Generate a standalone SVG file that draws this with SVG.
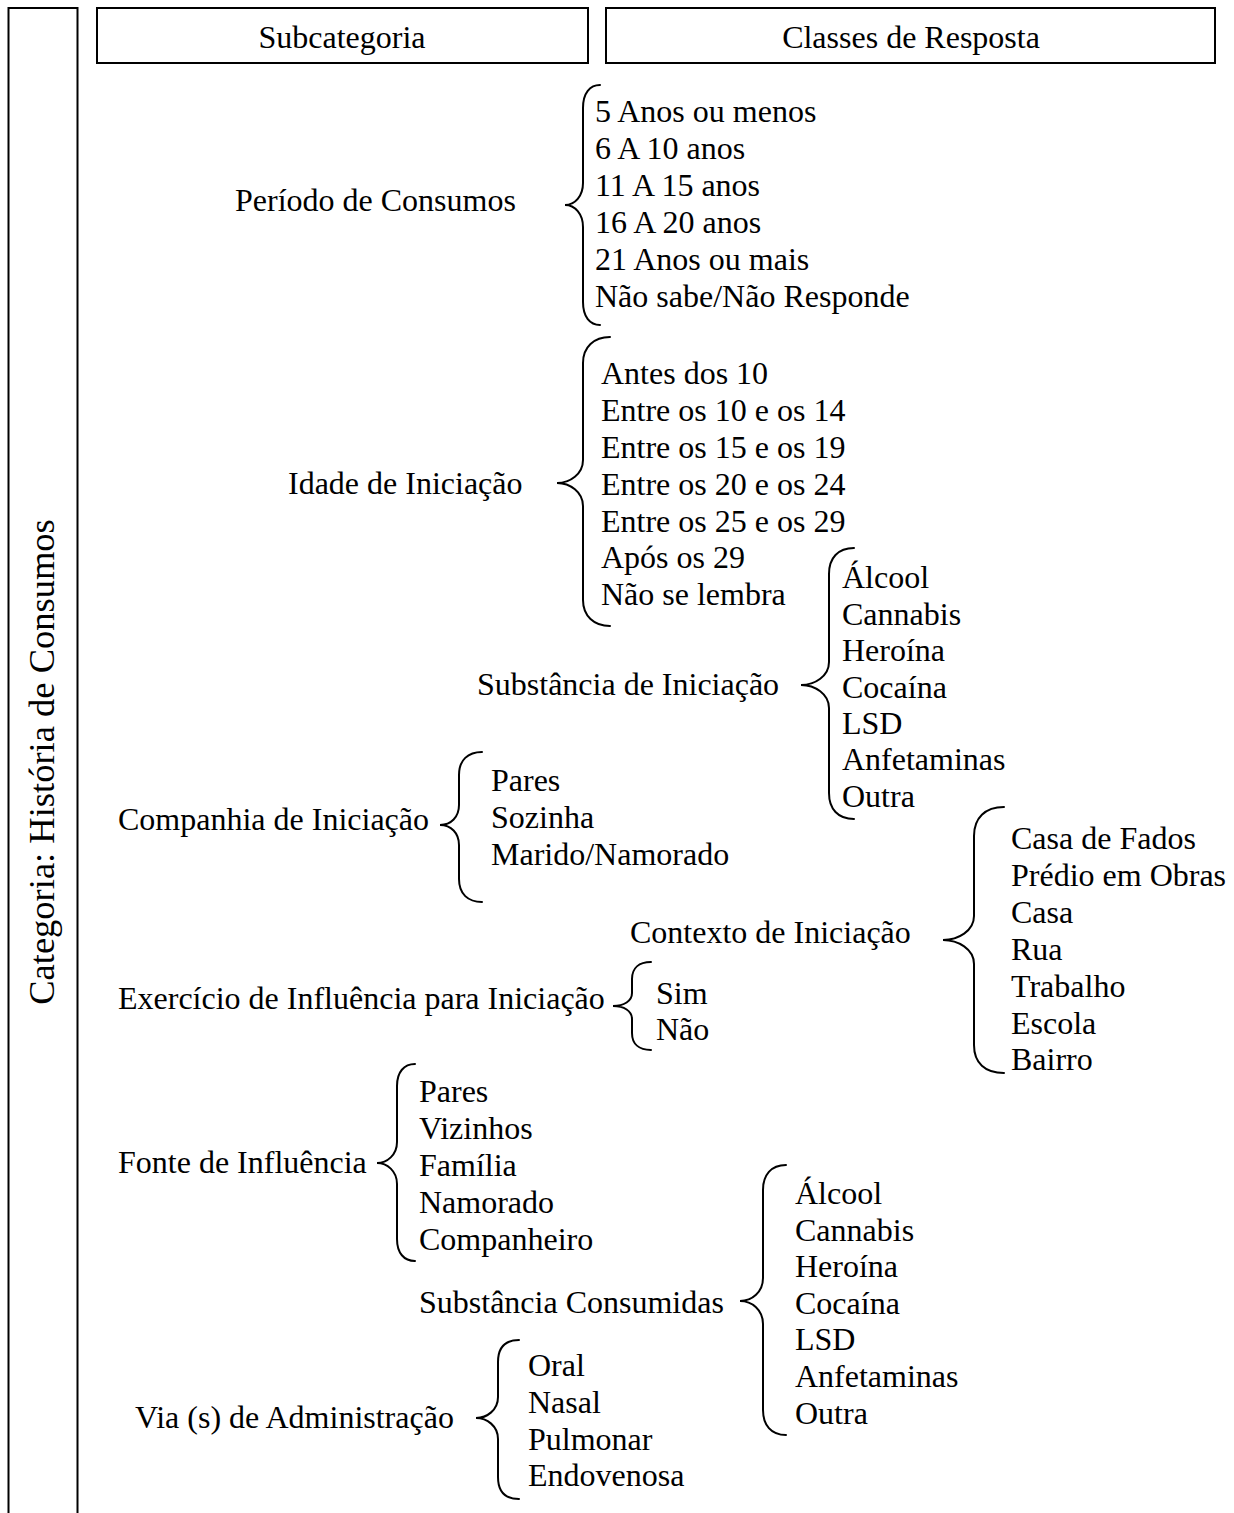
<svg xmlns="http://www.w3.org/2000/svg" width="1234" height="1513" viewBox="0 0 1234 1513">
<style>
text{font-family:"Liberation Serif","Times New Roman",serif;font-size:32px;fill:#000}
.hd{text-anchor:middle}
.vt{font-size:36.5px}
.box{fill:none;stroke:#000;stroke-width:2}
.br{fill:none;stroke:#000;stroke-width:2;stroke-linecap:round}
</style>
<rect width="1234" height="1513" fill="#fff"/>
<g id="category">
<path class="box" d="M8.5,1513 V8 H77.5 V1513"/>
<text transform="translate(54,762) rotate(-90)" class="hd vt">Categoria: História de Consumos</text>
</g>
<g id="header-subcategoria">
<rect class="box" x="97" y="8" width="491" height="55"/>
<text x="342" y="48" class="hd">Subcategoria</text>
</g>
<g id="header-classes">
<rect class="box" x="606" y="8" width="609" height="55"/>
<text x="911" y="48" class="hd">Classes de Resposta</text>
</g>
<g id="connectors">
<path class="br" d="M600,85 C590,85 583,93 583,108 L583,183 C583,196 575,205 565,205 C575,205 583,214 583,227 L583,302 C583,317 590,325 600,325"/>
<path class="br" d="M610,337 C594,337 583,347 583,363 L583,460 C583,474 570,483 557,483 C570,483 583,492 583,506 L583,600 C583,616 594,626 610,626"/>
<path class="br" d="M854,548 C838,548 829,558 829,574 L829,662 C829,676 815,685 801,685 C815,685 829,694 829,708 L829,793 C829,809 838,819 854,819"/>
<path class="br" d="M482,752 C468,752 459,760 459,775 L459,805 C459,817 451,825 440,825 C451,825 459,833 459,845 L459,879 C459,894 468,902 482,902"/>
<path class="br" d="M651,962 C639,962 632,968 632,979 L632,993 C632,1001 624,1006 613,1006 C624,1006 632,1011 632,1019 L632,1033 C632,1044 639,1050 651,1050"/>
<path class="br" d="M1004,807 C985,807 974,818 974,836 L974,916 C974,931 958,940 943,940 C958,940 974,949 974,964 L974,1045 C974,1063 985,1073 1004,1073"/>
<path class="br" d="M415,1064 C404,1064 397,1072 397,1086 L397,1142 C397,1155 387,1163 377,1163 C387,1163 397,1171 397,1184 L397,1239 C397,1253 404,1261 415,1261"/>
<path class="br" d="M786,1165 C771,1165 763,1175 763,1190 L763,1278 C763,1292 752,1301 740,1301 C752,1301 763,1310 763,1324 L763,1410 C763,1425 771,1435 786,1435"/>
<path class="br" d="M519,1340 C505,1340 498,1348 498,1362 L498,1397 C498,1410 487,1418 476,1418 C487,1418 498,1426 498,1439 L498,1477 C498,1491 505,1499 519,1499"/>
</g>
<g id="periodo">
<text x="235" y="211">Período de Consumos</text>
<text x="595" y="122">5 Anos ou menos</text>
<text x="595" y="159">6 A 10 anos</text>
<text x="595" y="196">11 A 15 anos</text>
<text x="595" y="233">16 A 20 anos</text>
<text x="595" y="270">21 Anos ou mais</text>
<text x="595" y="307">Não sabe/Não Responde</text>
</g>
<g id="idade">
<text x="288" y="494">Idade de Iniciação</text>
<text x="601" y="384">Antes dos 10</text>
<text x="601" y="421">Entre os 10 e os 14</text>
<text x="601" y="458">Entre os 15 e os 19</text>
<text x="601" y="495">Entre os 20 e os 24</text>
<text x="601" y="532">Entre os 25 e os 29</text>
<text x="601" y="568">Após os 29</text>
<text x="601" y="605">Não se lembra</text>
</g>
<g id="substancia-iniciacao">
<text x="477" y="695">Substância de Iniciação</text>
<text x="842" y="588">Álcool</text>
<text x="842" y="625">Cannabis</text>
<text x="842" y="661">Heroína</text>
<text x="842" y="698">Cocaína</text>
<text x="842" y="734">LSD</text>
<text x="842" y="770">Anfetaminas</text>
<text x="842" y="807">Outra</text>
</g>
<g id="companhia">
<text x="118" y="830">Companhia de Iniciação</text>
<text x="491" y="791">Pares</text>
<text x="491" y="828">Sozinha</text>
<text x="491" y="865">Marido/Namorado</text>
</g>
<g id="contexto">
<text x="630" y="943">Contexto de Iniciação</text>
<text x="1011" y="849">Casa de Fados</text>
<text x="1011" y="886">Prédio em Obras</text>
<text x="1011" y="923">Casa</text>
<text x="1011" y="960">Rua</text>
<text x="1011" y="997">Trabalho</text>
<text x="1011" y="1034">Escola</text>
<text x="1011" y="1070">Bairro</text>
</g>
<g id="exercicio">
<text x="118" y="1009">Exercício de Influência para Iniciação</text>
<text x="656" y="1004">Sim</text>
<text x="656" y="1040">Não</text>
</g>
<g id="fonte">
<text x="118" y="1173">Fonte de Influência</text>
<text x="419" y="1102">Pares</text>
<text x="419" y="1139">Vizinhos</text>
<text x="419" y="1176">Família</text>
<text x="419" y="1213">Namorado</text>
<text x="419" y="1250">Companheiro</text>
</g>
<g id="substancia-consumidas">
<text x="419" y="1313">Substância Consumidas</text>
<text x="795" y="1204">Álcool</text>
<text x="795" y="1241">Cannabis</text>
<text x="795" y="1277">Heroína</text>
<text x="795" y="1314">Cocaína</text>
<text x="795" y="1350">LSD</text>
<text x="795" y="1387">Anfetaminas</text>
<text x="795" y="1424">Outra</text>
</g>
<g id="via">
<text x="135" y="1428">Via (s) de Administração</text>
<text x="528" y="1376">Oral</text>
<text x="528" y="1413">Nasal</text>
<text x="528" y="1450">Pulmonar</text>
<text x="528" y="1486">Endovenosa</text>
</g>
</svg>
